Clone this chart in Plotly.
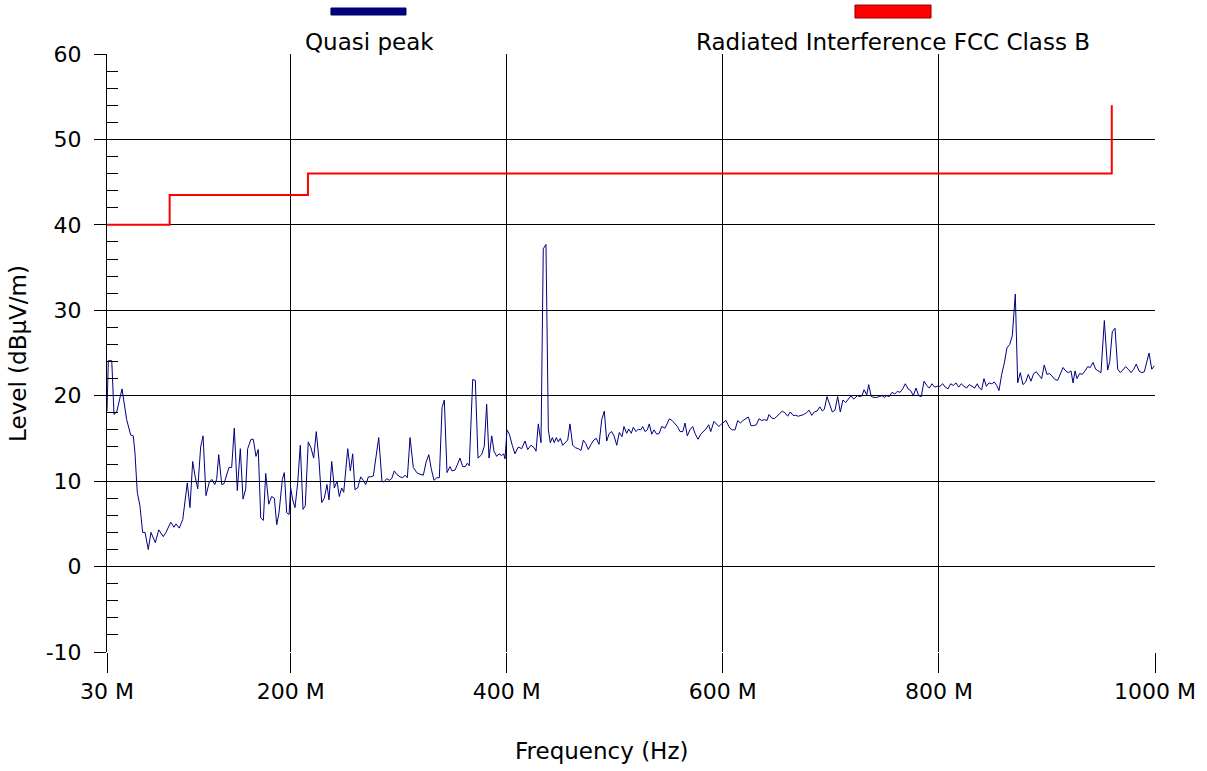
import plotly.graph_objects as go

# Quasi-peak scan: frequency in MHz, level in dBuV/m
qp_freq_mhz = [
    30.0, 31.2, 34.4, 36.5, 39.0, 43.9, 48.2, 51.9, 54.3, 55.9,
    58.0, 60.5, 63.0, 65.2, 68.2, 70.7, 74.7, 77.9, 82.1, 84.6,
    89.0, 92.0, 93.9, 96.9, 100.1, 102.2, 104.3, 106.8, 109.3, 111.5,
    114.0, 116.7, 118.9, 121.6, 124.7, 127.2, 129.7, 131.5, 133.4, 136.2,
    138.3, 142.9, 145.4, 147.8, 150.6, 153.4, 155.9, 158.4, 160.2, 163.3,
    165.4, 167.9, 170.0, 172.3, 174.7, 176.9, 179.7, 182.4, 184.9, 187.1,
    189.2, 192.3, 194.1, 196.3, 198.5, 200.0, 201.9, 204.0, 206.5, 208.9,
    211.4, 213.5, 216.3, 218.8, 221.3, 223.7, 226.2, 228.7, 231.1, 233.6,
    235.5, 238.0, 240.4, 242.9, 245.0, 247.2, 249.1, 252.8, 255.2, 257.4,
    259.5, 262.0, 264.8, 267.2, 269.5, 271.9, 274.1, 276.5, 281.5, 284.5,
    286.4, 288.9, 291.3, 293.5, 295.9, 298.1, 301.2, 303.7, 305.8, 308.0,
    310.5, 313.5, 316.7, 319.7, 322.8, 325.3, 327.8, 330.2, 332.7, 335.2,
    337.6, 340.1, 342.2, 344.7, 347.5, 349.3, 352.1, 354.2, 356.7, 359.2,
    361.6, 363.5, 365.3, 368.5, 370.9, 373.4, 376.8, 379.2, 381.4, 383.6,
    386.1, 388.2, 390.7, 392.8, 395.3, 397.2, 398.4, 400.2, 402.4, 405.1,
    407.6, 410.7, 413.8, 416.9, 419.4, 422.4, 425.5, 427.1, 429.2, 431.7,
    433.8, 436.3, 438.5, 440.3, 442.2, 444.0, 445.9, 447.7, 449.6, 451.8,
    453.9, 456.4, 458.5, 461.0, 463.8, 466.2, 468.7, 470.9, 473.1, 475.5,
    478.0, 480.5, 482.9, 485.4, 487.9, 490.3, 492.5, 494.9, 497.1, 499.3,
    501.8, 504.2, 506.7, 508.5, 511.0, 512.9, 515.3, 517.1, 519.6, 521.8,
    524.0, 525.8, 528.0, 530.1, 531.9, 534.2, 536.3, 538.8, 541.2, 543.4,
    546.5, 550.5, 553.0, 555.5, 557.9, 560.4, 562.9, 565.0, 567.1, 569.6,
    572.1, 574.2, 577.0, 579.5, 581.9, 584.4, 586.9, 588.8, 591.8, 594.3,
    596.2, 598.0, 600.4, 602.9, 604.8, 606.6, 608.8, 611.3, 613.8, 616.2,
    618.7, 621.2, 623.6, 626.1, 628.6, 631.0, 633.5, 636.0, 638.4, 640.9,
    642.7, 645.2, 647.6, 650.1, 652.6, 655.0, 657.5, 660.0, 662.4, 665.0,
    667.4, 669.9, 672.4, 674.9, 677.3, 679.8, 682.3, 684.7, 687.2, 689.7,
    692.1, 693.9, 696.4, 698.9, 701.3, 703.8, 706.3, 708.7, 711.2, 713.7,
    716.1, 718.6, 721.1, 724.5, 727.0, 728.8, 730.7, 733.2, 735.0, 737.4,
    739.9, 742.4, 744.8, 747.3, 749.8, 751.7, 754.1, 756.6, 759.1, 761.5,
    764.0, 766.5, 768.9, 771.4, 773.9, 776.3, 778.8, 781.3, 783.7, 786.2,
    788.7, 791.1, 793.6, 796.1, 798.5, 801.0, 803.5, 805.9, 808.4, 810.9,
    813.3, 815.8, 818.3, 820.7, 823.2, 825.7, 828.1, 830.6, 833.1, 835.5,
    837.4, 839.6, 841.7, 843.9, 846.4, 848.9, 851.3, 853.5, 855.6, 858.1,
    860.5, 863.0, 865.5, 867.9, 869.8, 870.7, 872.9, 875.3, 877.8, 880.3,
    882.7, 885.2, 887.7, 890.1, 892.6, 895.1, 897.5, 900.0, 902.5, 905.0,
    907.4, 909.9, 912.4, 914.9, 917.4, 919.8, 922.3, 924.1, 926.0, 927.8,
    930.3, 932.7, 935.2, 937.7, 940.1, 942.6, 945.1, 947.5, 950.0, 953.1,
    956.2, 958.1, 960.5, 963.0, 965.5, 967.9, 970.4, 972.9, 975.3, 977.8,
    980.3, 982.7, 985.2, 987.7, 990.1, 992.3, 994.5, 997.0, 999.4,
]
qp_level = [
    18.2, 24.1, 24.1, 17.8, 18.1, 20.8, 17.2, 15.4, 15.3, 13.3,
    8.7, 7.1, 4.0, 4.0, 2.0, 4.0, 2.8, 4.3, 3.5, 4.0,
    5.2, 4.6, 5.0, 4.5, 5.5, 7.5, 9.8, 6.9, 12.3, 10.6,
    9.1, 14.0, 15.3, 8.3, 9.9, 10.2, 9.6, 10.2, 13.1, 9.6,
    9.7, 11.6, 11.6, 16.2, 8.9, 13.8, 7.9, 9.1, 13.8, 14.9,
    14.9, 12.9, 13.7, 5.7, 5.4, 10.9, 7.3, 8.2, 8.0, 4.9,
    6.3, 10.2, 11.0, 6.3, 6.1, 9.2, 7.8, 6.9, 9.8, 14.2,
    6.7, 7.1, 14.6, 13.9, 12.7, 15.8, 12.5, 7.5, 8.0, 9.6,
    7.8, 12.3, 9.2, 10.0, 8.2, 9.2, 8.7, 13.8, 11.2, 13.2,
    9.0, 9.2, 10.5, 10.1, 9.6, 10.5, 10.5, 10.6, 15.1, 10.0,
    9.9, 10.3, 10.1, 10.3, 11.2, 10.8, 10.5, 10.4, 10.7, 10.4,
    15.1, 11.6, 11.0, 10.8, 10.7, 12.2, 13.1, 11.4, 10.1, 10.4,
    10.4, 18.6, 19.5, 11.0, 11.7, 11.2, 11.3, 11.9, 12.7, 11.7,
    11.7, 12.1, 11.8, 21.9, 21.8, 12.7, 13.1, 14.1, 19.0, 12.7,
    15.3, 13.5, 12.9, 13.2, 13.0, 13.2, 12.6, 16.0, 15.5, 14.2,
    13.2, 14.0, 13.8, 14.7, 13.7, 14.2, 13.9, 13.5, 16.7, 14.5,
    37.2, 37.7, 16.0, 14.5, 15.1, 14.5, 15.1, 14.6, 15.0, 14.2,
    14.5, 14.8, 16.7, 14.2, 13.9, 13.8, 13.6, 14.8, 14.4, 13.7,
    14.3, 14.8, 15.0, 14.3, 17.2, 18.2, 14.7, 15.6, 15.8, 15.3,
    14.2, 15.7, 15.2, 16.4, 15.6, 16.1, 15.6, 16.3, 15.8, 16.1,
    16.0, 16.4, 15.8, 16.0, 16.7, 15.5, 16.0, 15.5, 15.6, 16.4,
    16.2, 17.3, 17.1, 16.8, 16.4, 15.8, 15.8, 16.8, 15.3, 16.0,
    16.4, 15.6, 14.9, 15.5, 15.8, 16.1, 16.6, 15.8, 17.0, 16.6,
    16.4, 16.6, 16.8, 17.1, 16.6, 16.2, 16.0, 16.0, 17.1, 16.8,
    17.1, 17.3, 17.5, 16.5, 16.5, 16.6, 17.3, 17.1, 17.2, 17.1,
    17.8, 17.4, 17.3, 17.6, 17.9, 18.2, 18.0, 17.6, 18.1, 17.7,
    17.7, 17.6, 17.7, 17.8, 18.0, 18.3, 17.7, 18.1, 18.2, 18.7,
    18.2, 18.4, 19.9, 18.9, 18.1, 18.3, 19.9, 18.1, 19.5, 19.2,
    19.6, 20.0, 19.6, 20.0, 19.9, 20.0, 20.7, 20.1, 21.3, 19.9,
    19.8, 19.8, 19.9, 20.0, 19.8, 20.0, 19.9, 20.4, 20.2, 20.5,
    20.4, 20.8, 21.4, 20.8, 20.6, 20.0, 20.9, 20.0, 19.9, 21.7,
    21.2, 20.9, 21.4, 21.0, 21.1, 21.1, 21.4, 21.0, 20.8, 21.4,
    21.2, 21.5, 21.0, 21.4, 21.1, 20.9, 21.3, 21.1, 20.9, 21.4,
    20.9, 20.7, 22.0, 21.1, 21.5, 21.4, 21.6, 21.2, 20.6, 22.5,
    23.8, 25.6, 26.0, 27.0, 29.7, 31.9, 21.5, 22.7, 21.3, 21.6,
    22.5, 21.7, 22.6, 22.8, 22.4, 22.0, 23.6, 22.5, 22.6, 22.2,
    21.9, 21.8, 22.5, 23.3, 22.9, 22.7, 22.9, 21.5, 22.9, 22.0,
    22.6, 22.5, 22.9, 23.4, 23.3, 23.9, 23.1, 22.9, 22.7, 28.8,
    23.0, 24.0, 27.5, 27.9, 23.1, 22.7, 23.0, 23.4, 23.1, 22.7,
    23.1, 23.7, 22.9, 22.7, 22.8, 23.8, 25.0, 23.1, 23.5,
]

# FCC Class B radiated emission limit (3 m)
limit_freq_mhz = [30, 88, 88, 216, 216, 960, 960]
limit_level = [40, 40, 43.5, 43.5, 46, 46, 54]

x_tick_vals = [30, 200, 400, 600, 800, 1000]
x_tick_text = ["30 M", "200 M", "400 M", "600 M", "800 M", "1000 M"]
y_tick_vals = [-10, 0, 10, 20, 30, 40, 50, 60]
y_tick_text = ["-10", "0", "10", "20", "30", "40", "50", "60"]
y_minor_vals = [v for v in range(-8, 60, 2) if v % 10 != 0]

series_names = ["Quasi peak", "Radiated Interference FCC Class B"]
series_colors = ["#000080", "#ff0000"]

FONT = "Verdana, DejaVu Sans, sans-serif"
TICK_SIZE = 22
TEXT_SIZE = 23

fig = go.Figure()
fig.add_trace(go.Scatter(
    x=qp_freq_mhz, y=qp_level, mode="lines",
    line=dict(color=series_colors[0], width=1),
    name=series_names[0], showlegend=False,
))
fig.add_trace(go.Scatter(
    x=limit_freq_mhz, y=limit_level, mode="lines",
    line=dict(color=series_colors[1], width=2),
    name=series_names[1], showlegend=False,
))

fig.update_layout(
    width=1207, height=771,
    margin=dict(l=107, r=52, t=54, b=119),
    paper_bgcolor="white", plot_bgcolor="white",
    font=dict(family=FONT, size=TICK_SIZE, color="black"),
    showlegend=False,
    xaxis=dict(
        range=[30, 1000], tickvals=x_tick_vals, ticktext=x_tick_text,
        ticks="outside", ticklen=20, tickcolor="black", tickwidth=1,
        showgrid=True, gridcolor="black", gridwidth=1,
        zeroline=False, showline=False,
        tickfont=dict(family=FONT, size=TICK_SIZE, color="black"),
    ),
    yaxis=dict(
        range=[-10, 60], tickvals=y_tick_vals, ticktext=y_tick_text,
        ticks="outside", ticklen=12, tickcolor="black", tickwidth=1,
        ticklabelstandoff=8,
        showgrid=True, gridcolor="black", gridwidth=1,
        zeroline=False, showline=True, linecolor="black", linewidth=1,
        tickfont=dict(family=FONT, size=TICK_SIZE, color="black"),
        minor=dict(tickmode="array", tickvals=y_minor_vals, ticks="inside",
                   ticklen=11, tickcolor="black", tickwidth=1, showgrid=False),
    ),
)

# Axis titles
fig.add_annotation(text="Level (dBµV/m)", xref="paper", yref="paper",
                   x=-0.085, y=0.5, textangle=-90, showarrow=False,
                   xanchor="center", yanchor="middle",
                   font=dict(family=FONT, size=TEXT_SIZE, color="black"))
fig.add_annotation(text="Frequency (Hz)", xref="paper", yref="paper",
                   x=0.4714, y=-0.1656, showarrow=False,
                   xanchor="center", yanchor="middle",
                   font=dict(family=FONT, size=TEXT_SIZE, color="black"))

# Legend: colour bar above each series name
legend_items = [
    (series_names[0], series_colors[0], "#000060", 0.2137, 0.2853, 1.0652, 1.0769, 0.25),
    (series_names[1], series_colors[1], "#900000", 0.7137, 0.7863, 1.0602, 1.0819, 0.75),
]
for name, fill, edge, x0, x1, y0, y1, xc in legend_items:
    fig.add_shape(type="rect", xref="paper", yref="paper",
                  x0=x0, x1=x1, y0=y0, y1=y1,
                  fillcolor=fill, line=dict(color=edge, width=1))
    fig.add_annotation(text=name, xref="paper", yref="paper",
                       x=xc, y=1.0201, showarrow=False,
                       xanchor="center", yanchor="middle",
                       font=dict(family=FONT, size=TEXT_SIZE, color="black"))

fig.write_html("out.html")
